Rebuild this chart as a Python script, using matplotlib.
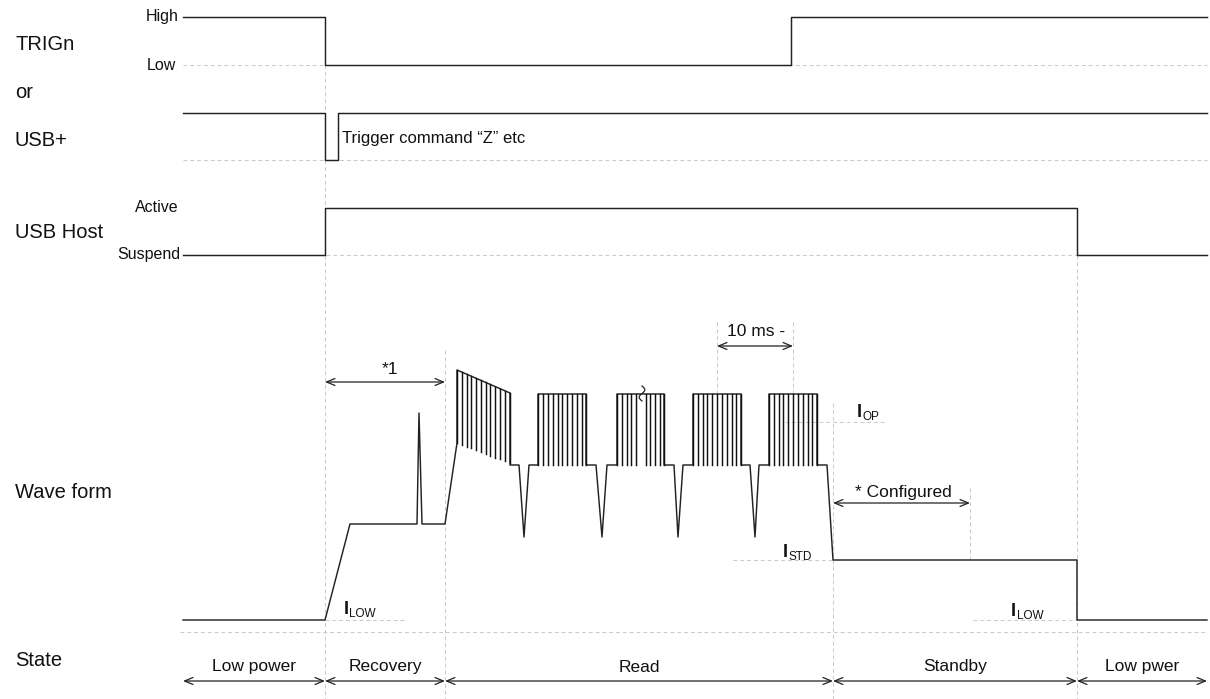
import numpy as np
import matplotlib
matplotlib.use("Agg")
import matplotlib.pyplot as plt

plt.rcParams['font.family'] = ['Liberation Sans', 'DejaVu Sans']

# ---------------- data ----------------
T0, T1 = 183, 1207

# digital rows: time of points and logic level (1 = high)
trig_t = [183, 325, 325, 791, 791, 1207]
trig_lv = [1, 1, 0, 0, 1, 1]
usb_t = [183, 325, 325, 338, 338, 1207]
usb_lv = [1, 1, 0, 0, 1, 1]
host_t = [183, 325, 325, 1077, 1077, 1207]
host_lv = [0, 0, 1, 1, 0, 0]

# row geometry: (high y, low y)
ROW_TRIG = (17, 65)
ROW_USB = (113, 160)
ROW_HOST = (208, 255)

# waveform: time and current (arbitrary units, 0 = I_LOW)
wave_t = [183, 325, 350, 417, 419, 422, 445, 457, 457, 510, 510, 519, 524, 529,
          538, 538, 586, 586, 596, 602, 607, 617, 617, 664, 664, 674, 678, 683,
          693, 693, 741, 741, 750, 755, 759, 769, 769, 817, 817, 827, 833, 1077,
          1077, 1207]
wave_i = [0, 0, 96, 96, 207, 96, 96, 177, 250, 227, 155, 155, 83, 155,
          155, 226, 226, 155, 155, 83, 155, 155, 226, 226, 155, 155, 83, 155,
          155, 226, 226, 155, 155, 83, 155, 155, 226, 226, 155, 155, 60, 60,
          0, 0]
WAVE_BASE = 620  # y of I_LOW

# burst pulse lines: times, tops and bottoms (current units)
burst1_t = [457, 462, 467, 471, 476, 481, 486, 490, 495, 500, 505, 510]
burst1_top = [250, 248, 246, 244, 242, 240, 238, 236, 233, 231, 229, 227]
burst1_bot = [177, 175, 173, 172, 170, 168, 166, 164, 162, 161, 159, 157]
burst2_t = [538, 543, 548, 553, 558, 562, 567, 572, 577, 582, 586]
burst3_t = [617, 622, 627, 631, 636, 646, 650, 655, 660, 664]
burst4_t = [693, 698, 703, 707, 712, 717, 722, 727, 732, 736, 741]
burst5_t = [769, 774, 779, 783, 788, 793, 798, 803, 808, 812, 817]
BURST_TOP, BURST_BOT = 226, 155

# state segments
state_names = ["Low power", "Recovery", "Read", "Standby", "Low pwer"]
state_bounds = [183, 325, 445, 833, 1077, 1207]

row_labels = [("TRIGn", 44), ("or", 93), ("USB+", 141), ("USB Host", 233),
              ("Wave form", 492), ("State", 660)]

# ---------------- drawing ----------------
fig = plt.figure(figsize=(12.1, 6.99), dpi=100)
ax = fig.add_axes([0, 0, 1, 1])
ax.set_xlim(0, 1210)
ax.set_ylim(699, 0)
ax.axis('off')

SIG = '#222222'
GRID = '#c9c9c9'
DASH = (0, (4, 3))
LW = 1.05


def gline(x, y):
    ax.plot(x, y, color=GRID, lw=0.7, ls=DASH, zorder=1)


# dashed guides
for yy in (ROW_TRIG[1], ROW_USB[1], ROW_HOST[1], 632):
    gline([T0 if yy != 632 else 180, T1], [yy, yy])
gline([325, 325], [17, 699])
gline([445, 445], [350, 699])
gline([833, 833], [403, 699])
gline([1077, 1077], [255, 699])
gline([717, 717], [322, 394])
gline([793, 793], [322, 394])
gline([970, 970], [488, 560])
gline([325, 405], [620, 620])
gline([785, 887], [422, 422])
gline([733, 833], [560, 560])
gline([973, 1077], [620, 620])


def digital(t, lv, row):
    hi, lo = row
    ax.plot(t, [hi if v else lo for v in lv], color=SIG, lw=LW, zorder=3)


digital(trig_t, trig_lv, ROW_TRIG)
digital(usb_t, usb_lv, ROW_USB)
digital(host_t, host_lv, ROW_HOST)

# waveform
wy = [WAVE_BASE - v for v in wave_i]
ax.plot(wave_t, wy, color=SIG, lw=LW, zorder=3)
for t, tp, bt in zip(burst1_t, burst1_top, burst1_bot):
    ax.plot([t, t], [WAVE_BASE - tp, WAVE_BASE - bt], color='#111', lw=1.05, zorder=3)
for bt_list in (burst2_t, burst3_t, burst4_t, burst5_t):
    for t in bt_list:
        ax.plot([t, t], [WAVE_BASE - BURST_TOP, WAVE_BASE - BURST_BOT],
                color='#111', lw=1.05, zorder=3)

# squiggle (break mark)
s = np.linspace(0, 1, 30)
ax.plot(642 + 2.8 * np.sin(2 * np.pi * s), 386 + 15 * s, color=SIG, lw=0.9, zorder=4)

# labels on the left
for txt, yy in row_labels:
    ax.text(15, yy, txt, fontsize=14.5, ha='left', va='center', color='#111')
for txt, xx, yy in [("High", 179, 17), ("Low", 176, 65),
                    ("Active", 179, 207), ("Suspend", 180, 255)]:
    ax.text(xx, yy, txt, fontsize=11.5, ha='right', va='center', color='#111')

ax.text(342, 138, "Trigger command \u201cZ\u201d etc", fontsize=12,
        ha='left', va='center', color='#111')


def dim_arrow(x0, x1, y):
    ax.annotate('', xy=(x1, y), xytext=(x0, y),
                arrowprops=dict(arrowstyle='<->,head_length=0.6,head_width=0.25',
                                color=SIG, lw=0.9, shrinkA=0, shrinkB=0), zorder=4)


dim_arrow(325, 445, 382)
ax.text(390, 369, "*1", fontsize=12.5, ha='center', va='center', color='#111')
dim_arrow(717, 793, 346)
ax.text(756, 331, "10 ms -", fontsize=12.5, ha='center', va='center', color='#111')
dim_arrow(833, 970, 503)
ax.text(903, 493, "* Configured", fontsize=12.5, ha='center', va='center', color='#111')


def cur_label(x, y, sub):
    ax.text(x, y, "I", fontsize=13, fontweight='bold', ha='left', va='baseline', color='#111')
    ax.text(x + 5.5, y + 3, sub, fontsize=8.5, ha='left', va='baseline', color='#111')


cur_label(344, 614, "LOW")
cur_label(857, 417, "OP")
cur_label(783, 557, "STD")
cur_label(1011, 616, "LOW")

# state arrows
for name, a, b in zip(state_names, state_bounds[:-1], state_bounds[1:]):
    dim_arrow(a, b, 681)
    ax.text((a + b) / 2, 667, name, fontsize=12.5, ha='center', va='center', color='#111')

fig.savefig("out.png", dpi=100)
